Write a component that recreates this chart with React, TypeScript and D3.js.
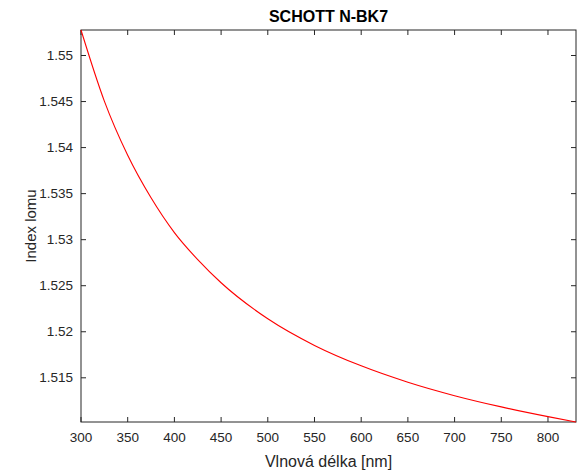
import * as React from "react"
import * as d3 from "d3"

// wavelength [nm] and refractive index
const wavelengths = [300, 325, 350, 375, 400, 425, 450, 500, 550, 600, 650, 700, 750, 800, 830]
const indexValues = [
  1.55277, 1.54505, 1.53917, 1.53455, 1.53077, 1.52783, 1.52532, 1.52141, 1.51852,
  1.5163, 1.51452, 1.51306, 1.51184, 1.51078, 1.5102,
]
const xTicks = [300, 350, 400, 450, 500, 550, 600, 650, 700, 750, 800]
const yTicks = [1.515, 1.52, 1.525, 1.53, 1.535, 1.54, 1.545, 1.55]

const width = 578
const height = 473
const margin = { top: 30, right: 2, bottom: 51, left: 81 }
const font = "'Liberation Sans', Arial, sans-serif"
const axisColor = "#262626"

export default function App() {
  const svgRef = React.useRef<SVGSVGElement>(null)

  React.useEffect(() => {
    const svg = d3.select(svgRef.current)
    svg.selectAll("*").remove()

    const x = d3
      .scaleLinear()
      .domain([wavelengths[0], wavelengths[wavelengths.length - 1]])
      .range([margin.left, width - margin.right])
    const y = d3
      .scaleLinear()
      .domain([indexValues[indexValues.length - 1], indexValues[0]])
      .range([height - margin.bottom, margin.top])

    const x0 = margin.left
    const x1 = width - margin.right
    const y0 = height - margin.bottom
    const y1 = margin.top

    const tick = 5
    const g = svg.append("g")

    // ticks on all sides, inward
    xTicks.forEach((t) => {
      g.append("line").attr("x1", x(t)).attr("x2", x(t)).attr("y1", y0).attr("y2", y0 - tick)
      g.append("line").attr("x1", x(t)).attr("x2", x(t)).attr("y1", y1).attr("y2", y1 + tick)
      svg
        .append("text")
        .attr("x", x(t))
        .attr("y", y0 + 20)
        .attr("text-anchor", "middle")
        .attr("font-size", 13.5)
        .text(t)
    })
    yTicks.forEach((t) => {
      g.append("line").attr("x1", x0).attr("x2", x0 + tick).attr("y1", y(t)).attr("y2", y(t))
      g.append("line").attr("x1", x1).attr("x2", x1 - tick).attr("y1", y(t)).attr("y2", y(t))
      svg
        .append("text")
        .attr("x", x0 - 8)
        .attr("y", y(t) + 4.5)
        .attr("text-anchor", "end")
        .attr("font-size", 13.5)
        .text(d3.format("")(t))
    })
    g.attr("stroke", axisColor).attr("stroke-width", 1)

    svg
      .append("rect")
      .attr("x", x0)
      .attr("y", y1)
      .attr("width", x1 - x0)
      .attr("height", y0 - y1)
      .attr("fill", "none")
      .attr("stroke", axisColor)
      .attr("stroke-width", 1)

    const line = d3
      .line<number>()
      .x((d, i) => x(wavelengths[i]))
      .y((d) => y(d))
      .curve(d3.curveMonotoneX)

    svg
      .append("path")
      .datum(indexValues)
      .attr("fill", "none")
      .attr("stroke", "#ff0000")
      .attr("stroke-width", 1.1)
      .attr("d", line)

    svg
      .append("text")
      .attr("x", (x0 + x1) / 2)
      .attr("y", 22)
      .attr("text-anchor", "middle")
      .attr("font-size", 16)
      .attr("font-weight", "bold")
      .attr("fill", "#000")
      .text("SCHOTT N-BK7")

    svg
      .append("text")
      .attr("x", (x0 + x1) / 2)
      .attr("y", 467)
      .attr("text-anchor", "middle")
      .attr("font-size", 16)
      .text("Vlnová délka [nm]")

    svg
      .append("text")
      .attr("transform", `translate(36, ${(y0 + y1) / 2}) rotate(-90)`)
      .attr("text-anchor", "middle")
      .attr("font-size", 15)
      .text("Index lomu")

    svg.selectAll("text").attr("font-family", font).filter(function () {
      return d3.select(this).attr("font-weight") !== "bold"
    }).attr("fill", axisColor)
  }, [])

  return (
    <svg
      ref={svgRef}
      width={width}
      height={height}
      style={{ position: "absolute", left: 0, top: 0, background: "#fff" }}
    />
  )
}
